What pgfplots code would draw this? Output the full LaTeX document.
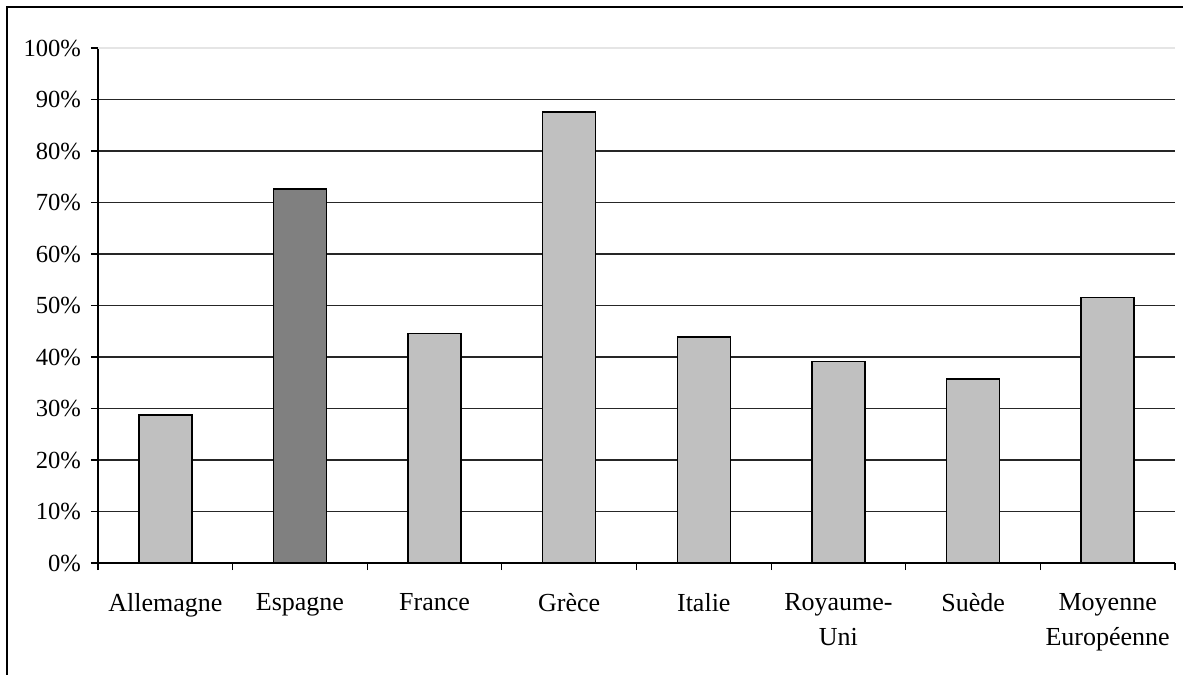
\documentclass[border=0pt]{standalone}
\usepackage{pgfplots}
\pgfplotsset{compat=1.18}
\usepackage{fontspec}
\setmainfont{Liberation Serif}
\definecolor{lightbar}{HTML}{C0C0C0}
\definecolor{darkbar}{HTML}{808080}
\begin{document}
\begin{tikzpicture}[font=\fontsize{12.3bp}{17.5bp}\selectfont]
\useasboundingbox (-49bp,-56bp) rectangle (542.5bp,281.5bp);
\draw[line width=1bp] (-45.5bp,-60bp) -- (-45.5bp,278bp) -- (560bp,278bp);
\begin{axis}[
  at={(0,0)}, anchor=south west,
  scale only axis, width=538.5bp, height=257.5bp,
  xmin=-0.5, xmax=7.5, ymin=0, ymax=100,
  axis x line*=bottom, axis y line*=left,
  axis line style={line width=0.6bp, black},
  xtick={0,...,7},
  xticklabels={Allemagne, Espagne, France, Grèce, Italie, Royaume-\\Uni, Suède, Moyenne\\Européenne},
  xticklabel style={align=center, yshift=-8bp, font=\fontsize{13bp}{17.5bp}\selectfont},
  major x tick style={draw=none},
  minor xtick={-0.5,0.5,...,7.5},
  minor tick length=3.5bp, major tick length=3.5bp,
  tick align=outside,
  tick style={line width=0.6bp, black},
  ytick={0,10,...,90},
  yticklabels={0\%,10\%,20\%,30\%,40\%,50\%,60\%,70\%,80\%,90\%},
  extra y ticks={100},
  extra y tick labels={100\%},
  extra y tick style={grid style={gray!20, line width=0.6bp}},
  yticklabel style={xshift=-1.5bp},
  ymajorgrids,
  grid style={black!85, line width=0.6bp},
  clip=false,
]
\addplot[ybar, bar width=26.5bp, bar shift=0pt, fill=lightbar, draw=black, line width=0.75bp]
  coordinates {(0,28.7) (2,44.6) (3,87.6) (4,43.9) (5,39.1) (6,35.7) (7,51.6)};
\addplot[ybar, bar width=26.5bp, bar shift=0pt, fill=darkbar, draw=black, line width=0.75bp]
  coordinates {(1,72.6)};
\end{axis}
\end{tikzpicture}
\end{document}
